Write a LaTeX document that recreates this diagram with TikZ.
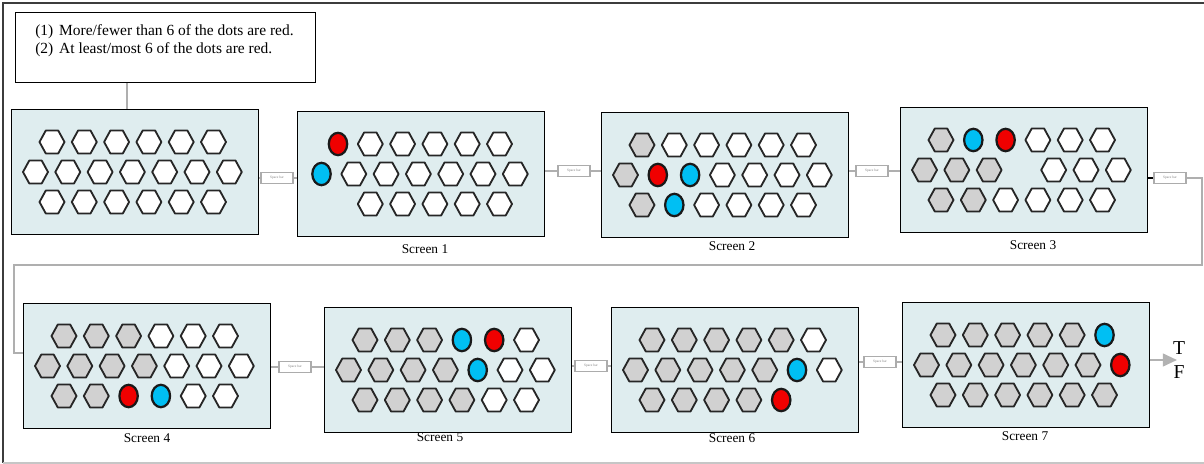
\documentclass[tikz,border=0pt]{standalone}
\usepackage{fontspec}
\setmainfont{Liberation Serif}
\usetikzlibrary{arrows.meta,shadows}
\definecolor{scrfill}{RGB}{223,237,239}
\definecolor{dotblue}{RGB}{0,191,243}
\definecolor{dotred}{RGB}{240,0,0}
\definecolor{conncol}{RGB}{175,175,175}
\definecolor{framecol}{RGB}{60,60,60}
\tikzset{
 screen/.style={draw=black, line width=0.9pt, fill=scrfill, minimum width=6.175cm, minimum height=3.125cm, inner sep=0pt, anchor=north west},
 hexw/.style={draw=black!85, line width=1.3pt, fill=white, line join=round},
 hexg/.style={hexw, fill=black!18},
 dotr/.style={draw=black!90, line width=1.6pt, fill=dotred},
 dotb/.style={dotr, fill=dotblue},
 spacebar/.style={draw=gray!65, line width=0.8pt, fill=white, minimum width=0.8cm, minimum height=0.26cm, inner sep=0pt, font=\fontsize{2.5}{3}\selectfont, text=gray, drop shadow={shadow xshift=0.8pt, shadow yshift=-0.8pt, fill=gray!40, opacity=1}},
 conn/.style={draw=conncol, line width=0.8pt},
 lbl/.style={font=\fontsize{9.5}{11}\selectfont, inner sep=0pt},
 qtext/.style={anchor=base west, inner sep=0pt, font=\fontsize{11}{13}\selectfont},
 tf/.style={font=\fontsize{14}{16}\selectfont, inner sep=0pt},
}
\newcommand\drawelem[3]{%
  \if#1w\draw[hexw] ({#2},{#3}) +(-12.5,0) -- +(-6.2,-11.5) -- +(6.2,-11.5) -- +(12.5,0) -- +(6.2,11.5) -- +(-6.2,11.5) -- cycle;\fi
  \if#1g\draw[hexg] ({#2},{#3}) +(-12.5,0) -- +(-6.2,-11.5) -- +(6.2,-11.5) -- +(12.5,0) -- +(6.2,11.5) -- +(-6.2,11.5) -- cycle;\fi
  \if#1r\draw[dotr] ({#2},{#3}) ellipse [x radius=0.23cm, y radius=0.28cm];\fi
  \if#1b\draw[dotb] ({#2},{#3}) ellipse [x radius=0.23cm, y radius=0.28cm];\fi
}
\newcommand\drawscreen[6]{%
  \node[screen] (#1) at (#2,#3) {};
  \foreach \c [count=\i from 0] in {#4} {\drawelem{\c}{#2+41+\i*32.3}{#3+33}}
  \foreach \c [count=\i from 0] in {#5} {\drawelem{\c}{#2+24.5+\i*32.3}{#3+63}}
  \foreach \c [count=\i from 0] in {#6} {\drawelem{\c}{#2+41+\i*32.3}{#3+93}}
}
\begin{document}
\begin{tikzpicture}[x=0.025cm, y=-0.025cm]
\useasboundingbox (0,0) rectangle (1204,464);
\fill[white] (0,0) rectangle (1204,464);
% outer frame
\draw[framecol, line width=1pt] (1204,3) -- (3,3) -- (3,463);
\draw[gray!45, line width=1pt] (3,463) -- (1204,463);

% question box
\node[draw, line width=0.9pt, minimum width=7.5cm, minimum height=1.75cm, anchor=north west, inner sep=0pt] (q) at (15,12) {};
\node[qtext] (q1) at (35,36) {\makebox[17pt][l]{(1)}More/fewer than 6 of the dots are red.};
\node[qtext] (q2) at (35,54) {\makebox[17pt][l]{(2)}At least/most 6 of the dots are red.};

% screens
\drawscreen{s0}{11}{109}{w,w,w,w,w,w}{w,w,w,w,w,w,w}{w,w,w,w,w,w}
\drawscreen{s1}{297}{111}{r,w,w,w,w,w}{b,w,w,w,w,w,w}{e,w,w,w,w,w}
\drawscreen{s2}{601}{112}{g,w,w,w,w,w}{g,r,b,w,w,w,w}{g,b,w,w,w,w}
\drawscreen{s3}{900}{107}{g,b,r,w,w,w}{g,g,g,e,w,w,w}{g,g,w,w,w,w}
\drawscreen{s4}{23}{303}{g,g,g,w,w,w}{g,g,g,g,w,w,w}{g,g,r,b,w,w}
\drawscreen{s5}{324}{307}{g,g,g,b,r,w}{g,g,g,g,b,w,w}{g,g,g,g,w,w}
\drawscreen{s6}{611}{307}{g,g,g,g,g,w}{g,g,g,g,g,b,w}{g,g,g,g,r,e}
\drawscreen{s7}{902}{302}{g,g,g,g,g,b}{g,g,g,g,g,g,r}{g,g,g,g,g,g}

\draw[conn] ([xshift=2.8cm]q.south west) coordinate (qa) -- (qa |- s0.north);

% space bars
\node[spacebar] (sb1) at (277,178) {Space bar};
\node[spacebar] (sb2) at (574,171) {Space bar};
\node[spacebar] (sb3) at (872,171) {Space bar};
\node[spacebar] (sb4) at (1170,178) {Space bar};
\node[spacebar] (sb5) at (295,367) {Space bar};
\node[spacebar] (sb6) at (591,366) {Space bar};
\node[spacebar] (sb7) at (880,362) {Space bar};

\draw[conn] (s0.east |- sb1) -- (sb1.west);
\draw[conn] (sb1.east) -- (sb1 -| s1.west);
\draw[conn] (s1.east |- sb2) -- (sb2.west);
\draw[conn] (sb2.east) -- (sb2 -| s2.west);
\draw[conn] (s2.east |- sb3) -- (sb3.west);
\draw[conn] (sb3.east) -- (sb3 -| s3.west);
\draw[black, line width=0.8pt] (s3.east |- sb4) -- (sb4.west);
\coordinate (c1) at (1202,178);
\coordinate (c2) at (1202,265);
\coordinate (c3) at (14,265);
\coordinate (c4) at (14,353);
\draw[conn] (sb4.east) -- (c1) -- (c2) -- (c3) -- (c4) -- (c4 -| s4.west);
\draw[conn] (s4.east |- sb5) -- (sb5.west);
\draw[conn] (sb5.east) -- (sb5 -| s5.west);
\draw[conn] (s5.east |- sb6) -- (sb6.west);
\draw[conn] (sb6.east) -- (sb6 -| s6.west);
\draw[conn] (s6.east |- sb7) -- (sb7.west);
\draw[conn] (sb7.east) -- (sb7 -| s7.west);

% labels
\node[lbl] (l1) at (425,249) {Screen 1};
\node[lbl] (l2) at (732,246) {Screen 2};
\node[lbl] (l3) at (1033,245) {Screen 3};
\node[lbl] (l4) at (147,438) {Screen 4};
\node[lbl] (l5) at (440,437) {Screen 5};
\node[lbl] (l6) at (732,438) {Screen 6};
\node[lbl] (l7) at (1025,436) {Screen 7};

% final arrow and T/F
\coordinate (tip) at (1177,360);
\draw[draw=gray!60, line width=1.4pt, -{Triangle[length=10pt,width=9pt,fill=gray!60]}] (tip -| s7.east) -- (tip);
\node[tf] (T) at (1179,348.5) {T};
\node[tf] (F) at (1179,372.5) {F};
\end{tikzpicture}
\end{document}
